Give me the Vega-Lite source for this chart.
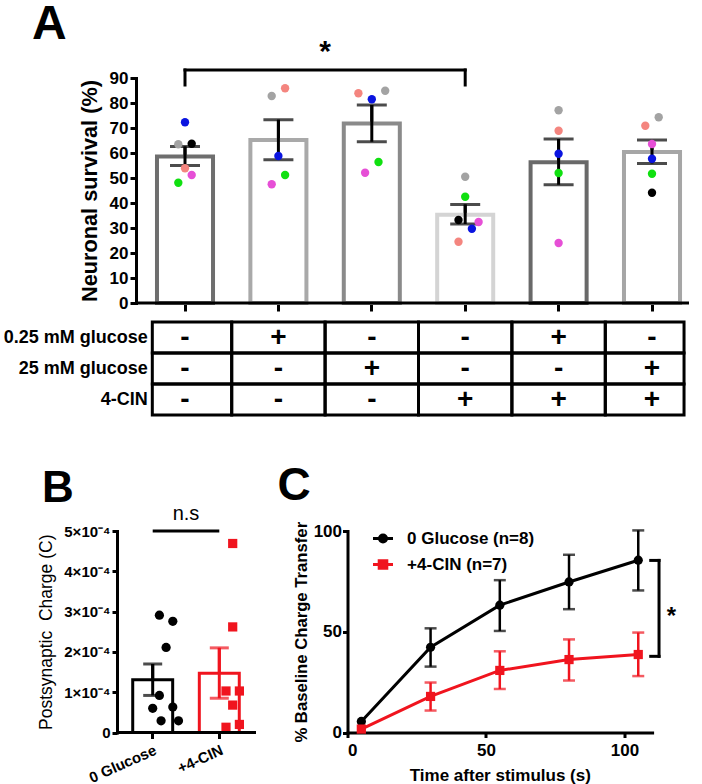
{
  "$schema": "https://vega.github.io/schema/vega-lite/v6.json",
  "padding": {"left": 3, "top": 0, "right": 0, "bottom": 0},
  "config": {
    "font": "Liberation Sans",
    "view": {"stroke": null},
    "axis": {"grid": false, "domainColor": "black", "tickColor": "black", "labelColor": "black", "titleColor": "black", "domainWidth": 3, "tickWidth": 3, "labelFontWeight": "bold", "titleFontWeight": "bold", "domainCap": "square", "labelOverlap": false},
    "title": {"fontWeight": "bold", "color": "black", "anchor": "start", "frame": "group", "offset": 0},
    "legend": {"labelColor": "black"}
  },
  "datasets": {
    "survival": [
      {"g": 1, "mean": 58.6, "lo": 55.0, "hi": 62.6},
      {"g": 2, "mean": 65.2, "lo": 57.3, "hi": 73.3},
      {"g": 3, "mean": 71.8, "lo": 64.5, "hi": 79.2},
      {"g": 4, "mean": 35.3, "lo": 31.6, "hi": 39.4},
      {"g": 5, "mean": 56.3, "lo": 47.3, "hi": 65.6},
      {"g": 6, "mean": 60.4, "lo": 55.8, "hi": 65.2}
    ],
    "dots": [
      {"g": 1, "rep": "exp1", "j": 0, "v": 72.3},
      {"g": 1, "rep": "exp2", "j": -1, "v": 63.5},
      {"g": 1, "rep": "exp3", "j": 1, "v": 63.7},
      {"g": 1, "rep": "exp4", "j": 0, "v": 53.9},
      {"g": 1, "rep": "exp5", "j": 1, "v": 51.2},
      {"g": 1, "rep": "exp6", "j": -1, "v": 48.1},
      {"g": 2, "rep": "exp2", "j": -1, "v": 82.8},
      {"g": 2, "rep": "exp4", "j": 1, "v": 85.9},
      {"g": 2, "rep": "exp1", "j": 0, "v": 58.8},
      {"g": 2, "rep": "exp6", "j": 1, "v": 51.2},
      {"g": 2, "rep": "exp5", "j": -1, "v": 47.5},
      {"g": 3, "rep": "exp4", "j": -2, "v": 83.9},
      {"g": 3, "rep": "exp2", "j": 2, "v": 84.9},
      {"g": 3, "rep": "exp1", "j": 0, "v": 81.5},
      {"g": 3, "rep": "exp6", "j": 1, "v": 56.4},
      {"g": 3, "rep": "exp5", "j": -1, "v": 52.1},
      {"g": 4, "rep": "exp2", "j": 0, "v": 50.5},
      {"g": 4, "rep": "exp6", "j": 0, "v": 42.5},
      {"g": 4, "rep": "exp3", "j": -1, "v": 33.2},
      {"g": 4, "rep": "exp5", "j": 2, "v": 32.4},
      {"g": 4, "rep": "exp1", "j": 1, "v": 29.7},
      {"g": 4, "rep": "exp4", "j": -1, "v": 24.5},
      {"g": 5, "rep": "exp2", "j": 0, "v": 77.1},
      {"g": 5, "rep": "exp4", "j": 0, "v": 68.9},
      {"g": 5, "rep": "exp1", "j": 0, "v": 59.7},
      {"g": 5, "rep": "exp6", "j": 0, "v": 52.0},
      {"g": 5, "rep": "exp5", "j": 0, "v": 24.0},
      {"g": 6, "rep": "exp2", "j": 1, "v": 74.3},
      {"g": 6, "rep": "exp4", "j": -1, "v": 70.9},
      {"g": 6, "rep": "exp5", "j": 0, "v": 63.6},
      {"g": 6, "rep": "exp1", "j": 0, "v": 57.7},
      {"g": 6, "rep": "exp6", "j": 0, "v": 51.7},
      {"g": 6, "rep": "exp3", "j": 0, "v": 44.1}
    ],
    "table": [
      {"row": "0.25 mM glucose", "g": 1, "sym": "-"},
      {"row": "0.25 mM glucose", "g": 2, "sym": "+"},
      {"row": "0.25 mM glucose", "g": 3, "sym": "-"},
      {"row": "0.25 mM glucose", "g": 4, "sym": "-"},
      {"row": "0.25 mM glucose", "g": 5, "sym": "+"},
      {"row": "0.25 mM glucose", "g": 6, "sym": "-"},
      {"row": "25 mM glucose", "g": 1, "sym": "-"},
      {"row": "25 mM glucose", "g": 2, "sym": "-"},
      {"row": "25 mM glucose", "g": 3, "sym": "+"},
      {"row": "25 mM glucose", "g": 4, "sym": "-"},
      {"row": "25 mM glucose", "g": 5, "sym": "-"},
      {"row": "25 mM glucose", "g": 6, "sym": "+"},
      {"row": "4-CIN", "g": 1, "sym": "-"},
      {"row": "4-CIN", "g": 2, "sym": "-"},
      {"row": "4-CIN", "g": 3, "sym": "-"},
      {"row": "4-CIN", "g": 4, "sym": "+"},
      {"row": "4-CIN", "g": 5, "sym": "+"},
      {"row": "4-CIN", "g": 6, "sym": "+"}
    ],
    "chargeBars": [
      {"grp": "0 Glucose", "mean": 0.000131, "lo": 0.000092, "hi": 0.000170},
      {"grp": "+4-CIN", "mean": 0.000147, "lo": 0.000085, "hi": 0.000210}
    ],
    "chargePts": [
      {"grp": "0 Glucose", "j": -1, "v": 0.000291},
      {"grp": "0 Glucose", "j": 1, "v": 0.000276},
      {"grp": "0 Glucose", "j": 0, "v": 0.000211},
      {"grp": "0 Glucose", "j": -1, "v": 0.000092},
      {"grp": "0 Glucose", "j": -2, "v": 0.000060},
      {"grp": "0 Glucose", "j": 1, "v": 0.000063},
      {"grp": "0 Glucose", "j": -0.75, "v": 0.000029},
      {"grp": "0 Glucose", "j": 1.85, "v": 0.000029},
      {"grp": "+4-CIN", "j": 0, "v": 0.000469},
      {"grp": "+4-CIN", "j": 0, "v": 0.000262},
      {"grp": "+4-CIN", "j": -1, "v": 0.000103},
      {"grp": "+4-CIN", "j": 1, "v": 0.000103},
      {"grp": "+4-CIN", "j": 0, "v": 0.000068},
      {"grp": "+4-CIN", "j": -1, "v": 0.000013},
      {"grp": "+4-CIN", "j": 1, "v": 0.000020}
    ],
    "timecourse": [
      {"series": "0 Glucose (n=8)", "t": 5, "v": 5.5, "lo": null, "hi": null},
      {"series": "0 Glucose (n=8)", "t": 30, "v": 42.3, "lo": 32.7, "hi": 51.7},
      {"series": "0 Glucose (n=8)", "t": 55, "v": 63.2, "lo": 50.4, "hi": 75.6},
      {"series": "0 Glucose (n=8)", "t": 80, "v": 74.7, "lo": 61.2, "hi": 88.2},
      {"series": "0 Glucose (n=8)", "t": 105, "v": 85.5, "lo": 70.5, "hi": 100.3},
      {"series": "+4-CIN (n=7)", "t": 5, "v": 1.7, "lo": null, "hi": null},
      {"series": "+4-CIN (n=7)", "t": 30, "v": 17.9, "lo": 10.9, "hi": 24.8},
      {"series": "+4-CIN (n=7)", "t": 55, "v": 30.8, "lo": 21.6, "hi": 40.3},
      {"series": "+4-CIN (n=7)", "t": 80, "v": 36.2, "lo": 25.8, "hi": 46.2},
      {"series": "+4-CIN (n=7)", "t": 105, "v": 38.7, "lo": 28.0, "hi": 49.6}
    ]
  },
  "bounds": "flush",
  "spacing": 453,
  "resolve": {"scale": {"color": "independent", "stroke": "independent", "shape": "independent"}},
  "vconcat": [
    {
      "bounds": "flush",
      "spacing": 0,
      "resolve": {"scale": {"color": "independent", "stroke": "independent", "shape": "independent"}},
      "hconcat": [
        {"width": 19, "height": 225, "data": {"values": []}, "mark": "point"},
        {
          "width": 553,
          "height": 225,
          "title": {"text": "A", "fontSize": 48, "dx": -104, "dy": 16},
          "resolve": {"scale": {"y": "independent"}, "axis": {"y": "independent"}},
          "layer": [
            {
              "layer": [
                {
                  "data": {"name": "survival"},
                  "mark": {"type": "rule", "strokeWidth": 3, "color": "black"},
                  "encoding": {
                    "x": {"field": "g", "type": "ordinal", "scale": {"domain": [1, 2, 3, 4, 5, 6], "range": [2.3, 562.7], "paddingInner": 0, "paddingOuter": 0}, "axis": {"labels": false, "domain": false, "tickSize": 8, "title": null, "bandPosition": 0.5}},
                    "y": {"field": "lo", "type": "quantitative", "scale": {"domain": [0, 90], "nice": false}, "axis": {"orient": "left", "values": [0, 10, 20, 30, 40, 50, 60, 70, 80, 90], "tickCount": 10, "labelOverlap": false, "title": "Neuronal survival (%)", "titleFontSize": 21.7, "labelFontSize": 17, "tickSize": 6, "labelPadding": 2, "titlePadding": 8}},
                    "y2": {"field": "hi"}
                  }
                },
                {
                  "data": {"name": "survival"},
                  "mark": {"type": "rect", "fill": "white", "strokeWidth": 4},
                  "encoding": {
                    "x": {"field": "g", "type": "ordinal", "bandPosition": 0.2},
                    "x2": {"field": "g", "bandPosition": 0.8},
                    "y": {"field": "mean", "type": "quantitative"},
                    "y2": {"datum": 0},
                    "stroke": {"field": "g", "type": "ordinal", "scale": {"domain": [1, 2, 3, 4, 5, 6], "range": ["#6e6e6e", "#a9a9a9", "#8a8a8a", "#d4d4d4", "#696969", "#a6a6a6"]}, "legend": null}
                  }
                },
                {
                  "data": {"name": "survival"},
                  "mark": {"type": "rule", "strokeWidth": 3, "color": "black"},
                  "encoding": {
                    "x": {"field": "g", "type": "ordinal"},
                    "y": {"field": "lo", "type": "quantitative"},
                    "y2": {"field": "hi"}
                  }
                },
                {
                  "data": {"name": "survival"},
                  "mark": {"type": "tick", "size": 30, "thickness": 3, "color": "black", "orient": "horizontal"},
                  "encoding": {
                    "x": {"field": "g", "type": "ordinal"},
                    "y": {"field": "lo", "type": "quantitative"}
                  }
                },
                {
                  "data": {"name": "survival"},
                  "mark": {"type": "tick", "size": 30, "thickness": 3, "color": "black", "orient": "horizontal"},
                  "encoding": {
                    "x": {"field": "g", "type": "ordinal"},
                    "y": {"field": "hi", "type": "quantitative"}
                  }
                },
                {
                  "data": {"name": "dots"},
                  "mark": {"type": "point", "filled": true, "opacity": 1, "size": 70},
                  "encoding": {
                    "x": {"field": "g", "type": "ordinal"},
                    "xOffset": {"field": "j", "type": "quantitative", "scale": {"domain": [-2, 2], "range": [33.3, 60.1]}},
                    "y": {"field": "v", "type": "quantitative"},
                    "color": {"field": "rep", "type": "nominal", "scale": {"domain": ["exp1", "exp2", "exp3", "exp4", "exp5", "exp6"], "range": ["#0a14e0", "#a3a3a3", "#000000", "#f4857f", "#e64fd6", "#10e010"]}, "legend": null}
                  }
                },
                {
                  "data": {"values": [{}]},
                  "mark": {"type": "rule", "strokeWidth": 3, "color": "black", "strokeCap": "square"},
                  "encoding": {
                    "x": {"datum": 1, "type": "ordinal"},
                    "x2": {"datum": 4},
                    "y": {"datum": 93.2, "type": "quantitative"}
                  }
                },
                {
                  "data": {"values": [{}]},
                  "mark": {"type": "rule", "strokeWidth": 3, "color": "black", "strokeCap": "square"},
                  "encoding": {
                    "x": {"datum": 1, "type": "ordinal"},
                    "y": {"datum": 87.2, "type": "quantitative"},
                    "y2": {"datum": 93.2}
                  }
                },
                {
                  "data": {"values": [{}]},
                  "mark": {"type": "rule", "strokeWidth": 3, "color": "black", "strokeCap": "square"},
                  "encoding": {
                    "x": {"datum": 4, "type": "ordinal"},
                    "y": {"datum": 87.2, "type": "quantitative"},
                    "y2": {"datum": 93.2}
                  }
                },
                {
                  "data": {"values": [{}]},
                  "mark": {"type": "text", "text": "*", "fontSize": 30, "fontWeight": "bold", "color": "black", "align": "center", "baseline": "alphabetic"},
                  "encoding": {
                    "x": {"datum": 2, "type": "ordinal", "bandPosition": 1},
                    "y": {"datum": 97, "type": "quantitative"}
                  }
                },
                {
                  "data": {"values": [{}]},
                  "mark": {"type": "rule", "strokeWidth": 3, "color": "black"},
                  "encoding": {"y": {"datum": 0, "type": "quantitative"}}
                }
              ]
            },
            {
              "data": {"name": "table"},
              "layer": [
                {
                  "mark": {"type": "rect", "filled": false, "stroke": "black", "strokeWidth": 3},
                  "transform": [{"filter": "datum.g >= 2 && datum.g <= 5"}],
                  "encoding": {
                    "x": {"field": "g", "type": "ordinal", "bandPosition": 0},
                    "x2": {"field": "g", "bandPosition": 1},
                    "y": {"field": "row", "type": "nominal", "scale": {"domain": ["0.25 mM glucose", "25 mM glucose", "4-CIN"], "range": [244, 337], "paddingInner": 0, "paddingOuter": 0}, "axis": {"orient": "left", "offset": -16.3, "title": null, "domain": false, "ticks": false, "labelPadding": 5, "labelFontSize": 18, "labelLimit": 300}}
                  }
                },
                {
                  "transform": [{"filter": "datum.g == 1"}],
                  "mark": {"type": "rect", "filled": false, "stroke": "black", "strokeWidth": 3},
                  "encoding": {
                    "x": {"field": "g", "type": "ordinal", "bandPosition": 0.15},
                    "x2": {"field": "g", "bandPosition": 1},
                    "y": {"field": "row", "type": "nominal"}
                  }
                },
                {
                  "transform": [{"filter": "datum.g == 6"}],
                  "mark": {"type": "rect", "filled": false, "stroke": "black", "strokeWidth": 3},
                  "encoding": {
                    "x": {"field": "g", "type": "ordinal", "bandPosition": 0},
                    "x2": {"field": "g", "bandPosition": 0.843},
                    "y": {"field": "row", "type": "nominal"}
                  }
                },
                {
                  "mark": {"type": "text", "fontSize": 28, "fontWeight": "bold", "color": "black", "align": "center", "baseline": "middle"},
                  "encoding": {
                    "x": {"field": "g", "type": "ordinal"},
                    "y": {"field": "row", "type": "nominal"},
                    "text": {"field": "sym"}
                  }
                }
              ]
            }
          ]
        }
      ]
    },
    {
      "bounds": "flush",
      "spacing": 91.5,
      "resolve": {"scale": {"color": "independent", "stroke": "independent", "shape": "independent"}},
      "hconcat": [
        {
          "width": 139,
          "height": 201.5,
          "title": {"text": "B", "fontSize": 44, "dx": -75, "dy": 11},
          "layer": [
            {
              "data": {"name": "chargeBars"},
              "mark": {"type": "rule", "strokeWidth": 3},
              "encoding": {
                "x": {"field": "grp", "type": "nominal", "scale": {"domain": ["0 Glucose", "+4-CIN"], "range": [2.4, 135.6], "paddingInner": 0, "paddingOuter": 0}, "axis": {"title": null, "domain": false, "labelAngle": -24, "labelFontSize": 15, "tickSize": 6, "labelPadding": 4, "bandPosition": 0.5}},
                "y": {"field": "lo", "type": "quantitative", "scale": {"domain": [0, 0.0005], "nice": false}, "axis": {"values": [0, 0.0001, 0.0002, 0.0003, 0.0004, 0.0005], "tickCount": 6, "labelExpr": "datum.value == 0 ? '0' : format(datum.value * 10000, '.0f') + '×10⁻⁴'", "title": "Postsynaptic\u00a0 Charge (C)", "titleFontWeight": "normal", "titleFontSize": 17.5, "labelFontSize": 15, "tickSize": 5, "labelPadding": 2, "titlePadding": 8}},
                "y2": {"field": "hi"},
                "stroke": {"field": "grp", "type": "nominal", "scale": {"domain": ["0 Glucose", "+4-CIN"], "range": ["black", "#f0141e"]}, "legend": null}
              }
            },
            {
              "data": {"name": "chargeBars"},
              "mark": {"type": "rect", "fill": "white", "strokeWidth": 3},
              "encoding": {
                "x": {"field": "grp", "type": "nominal", "bandPosition": 0.2},
                "x2": {"field": "grp", "bandPosition": 0.8},
                "y": {"field": "mean", "type": "quantitative"},
                "y2": {"datum": 0},
                "stroke": {"field": "grp", "type": "nominal"}
              }
            },
            {
              "data": {"name": "chargeBars"},
              "mark": {"type": "rule", "strokeWidth": 3},
              "encoding": {
                "x": {"field": "grp", "type": "nominal"},
                "y": {"field": "lo", "type": "quantitative"},
                "y2": {"field": "hi"},
                "stroke": {"field": "grp", "type": "nominal"}
              }
            },
            {
              "data": {"name": "chargeBars"},
              "mark": {"type": "tick", "size": 19, "thickness": 3, "orient": "horizontal"},
              "encoding": {
                "x": {"field": "grp", "type": "nominal"},
                "y": {"field": "lo", "type": "quantitative"},
                "color": {"field": "grp", "type": "nominal", "scale": {"domain": ["0 Glucose", "+4-CIN"], "range": ["black", "#f0141e"]}, "legend": null}
              }
            },
            {
              "data": {"name": "chargeBars"},
              "mark": {"type": "tick", "size": 19, "thickness": 3, "orient": "horizontal"},
              "encoding": {
                "x": {"field": "grp", "type": "nominal"},
                "y": {"field": "hi", "type": "quantitative"},
                "color": {"field": "grp", "type": "nominal", "legend": null}
              }
            },
            {
              "data": {"name": "chargePts"},
              "mark": {"type": "point", "filled": true, "opacity": 1, "size": 85},
              "encoding": {
                "x": {"field": "grp", "type": "nominal"},
                "xOffset": {"field": "j", "type": "quantitative", "scale": {"domain": [-2, 2], "range": [20.3, 46.3]}},
                "y": {"field": "v", "type": "quantitative"},
                "color": {"field": "grp", "type": "nominal", "legend": null},
                "shape": {"field": "grp", "type": "nominal", "scale": {"domain": ["0 Glucose", "+4-CIN"], "range": ["circle", "square"]}, "legend": null}
              }
            },
            {
              "data": {"values": [{}]},
              "mark": {"type": "rule", "strokeWidth": 3, "color": "black"},
              "encoding": {
                "x": {"datum": "0 Glucose", "type": "nominal"},
                "x2": {"datum": "+4-CIN"},
                "y": {"datum": 0.0005, "type": "quantitative"}
              }
            },
            {
              "data": {"values": [{}]},
              "mark": {"type": "text", "text": "n.s", "fontSize": 20, "color": "black", "align": "center", "baseline": "alphabetic"},
              "encoding": {
                "x": {"datum": "0 Glucose", "type": "nominal", "bandPosition": 1},
                "y": {"datum": 0.000527, "type": "quantitative"}
              }
            },
            {
              "data": {"values": [{}]},
              "mark": {"type": "rule", "strokeWidth": 3, "color": "black"},
              "encoding": {"y": {"datum": 0, "type": "quantitative"}}
            }
          ]
        },
        {
          "width": 304.6,
          "height": 201.5,
          "title": {"text": "C", "fontSize": 46, "dx": -70, "dy": -7},
          "layer": [
            {
              "data": {"name": "timecourse"},
              "mark": {"type": "line", "strokeWidth": 3},
              "encoding": {
                "x": {"field": "t", "type": "quantitative", "scale": {"domain": [0, 110], "nice": false}, "axis": {"values": [0, 50, 100], "title": "Time after stimulus (s)", "titleFontSize": 17, "labelFontSize": 17, "tickSize": 5, "labelPadding": 5, "titlePadding": 8.6}},
                "y": {"field": "v", "type": "quantitative", "scale": {"domain": [0, 100], "nice": false}, "axis": {"values": [0, 50, 100], "title": "% Baseline Charge Transfer", "titleFontSize": 16.7, "labelFontSize": 17, "tickSize": 5, "labelPadding": 1, "titlePadding": 3}},
                "color": {"field": "series", "type": "nominal", "scale": {"domain": ["0 Glucose (n=8)", "+4-CIN (n=7)"], "range": ["black", "#f0141e"]},
                  "legend": {"orient": "none", "legendX": 24, "legendY": -4, "title": null, "labelFontSize": 17, "labelFontWeight": "bold", "symbolSize": 400, "symbolStrokeWidth": 3, "labelOffset": 12.6, "rowPadding": 5,
                    "encode": {"symbols": {"update": {
                      "shape": {"signal": "datum.value === '0 Glucose (n=8)' ? 'M-1,0H1M-0.35,0A0.35,0.35,0,1,0,0.35,0A0.35,0.35,0,1,0,-0.35,0Z' : 'M-1,0H1M-0.38,-0.38H0.38V0.38H-0.38Z'"},
                      "fill": {"scale": "color", "field": "value"},
                      "stroke": {"scale": "color", "field": "value"},
                      "strokeWidth": {"value": 3},
                      "opacity": {"value": 1}
                    }}}}}
              }
            },
            {
              "data": {"name": "timecourse"},
              "mark": {"type": "rule", "strokeWidth": 2.5},
              "encoding": {
                "x": {"field": "t", "type": "quantitative"},
                "y": {"field": "lo", "type": "quantitative"},
                "y2": {"field": "hi"},
                "color": {"field": "series", "type": "nominal"}
              }
            },
            {
              "data": {"name": "timecourse"},
              "mark": {"type": "tick", "size": 12, "thickness": 2.5, "orient": "horizontal"},
              "encoding": {
                "x": {"field": "t", "type": "quantitative"},
                "y": {"field": "lo", "type": "quantitative"},
                "color": {"field": "series", "type": "nominal"}
              }
            },
            {
              "data": {"name": "timecourse"},
              "mark": {"type": "tick", "size": 12, "thickness": 2.5, "orient": "horizontal"},
              "encoding": {
                "x": {"field": "t", "type": "quantitative"},
                "y": {"field": "hi", "type": "quantitative"},
                "color": {"field": "series", "type": "nominal"}
              }
            },
            {
              "data": {"name": "timecourse"},
              "transform": [{"filter": "datum.series === '0 Glucose (n=8)'"}],
              "mark": {"type": "point", "filled": true, "opacity": 1, "size": 85, "shape": "circle"},
              "encoding": {
                "x": {"field": "t", "type": "quantitative"},
                "y": {"field": "v", "type": "quantitative"},
                "color": {"field": "series", "type": "nominal"}
              }
            },
            {
              "data": {"name": "timecourse"},
              "transform": [{"filter": "datum.series === '+4-CIN (n=7)'"}],
              "mark": {"type": "point", "filled": true, "opacity": 1, "size": 85, "shape": "square"},
              "encoding": {
                "x": {"field": "t", "type": "quantitative"},
                "y": {"field": "v", "type": "quantitative"},
                "color": {"field": "series", "type": "nominal"}
              }
            },
            {
              "data": {"values": [{}]},
              "mark": {"type": "rule", "strokeWidth": 3, "color": "black", "strokeCap": "square"},
              "encoding": {
                "x": {"datum": 112.5, "type": "quantitative"},
                "y": {"datum": 37.8, "type": "quantitative"},
                "y2": {"datum": 85.4}
              }
            },
            {
              "data": {"values": [{}]},
              "mark": {"type": "rule", "strokeWidth": 3, "color": "black", "strokeCap": "square"},
              "encoding": {
                "x": {"datum": 109.5, "type": "quantitative"},
                "x2": {"datum": 112.5},
                "y": {"datum": 85.4, "type": "quantitative"}
              }
            },
            {
              "data": {"values": [{}]},
              "mark": {"type": "rule", "strokeWidth": 3, "color": "black", "strokeCap": "square"},
              "encoding": {
                "x": {"datum": 109.5, "type": "quantitative"},
                "x2": {"datum": 112.5},
                "y": {"datum": 37.8, "type": "quantitative"}
              }
            },
            {
              "data": {"values": [{}]},
              "mark": {"type": "text", "text": "*", "fontSize": 24, "fontWeight": "bold", "color": "black", "align": "center", "baseline": "alphabetic"},
              "encoding": {
                "x": {"datum": 117, "type": "quantitative"},
                "y": {"datum": 53.9, "type": "quantitative"}
              }
            }
          ]
        }
      ]
    }
  ]
}
